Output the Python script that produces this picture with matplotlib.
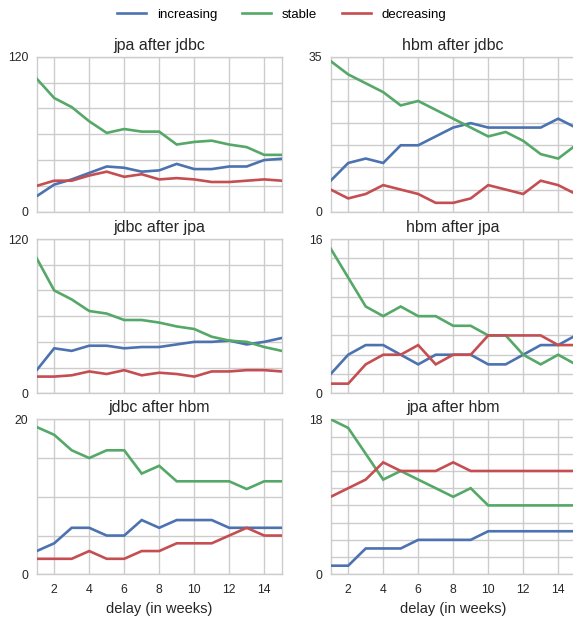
import numpy as np
import matplotlib
matplotlib.use("Agg")
import matplotlib.pyplot as plt

weeks = list(range(1, 16))
series_names = ["increasing", "stable", "decreasing"]
colors = ["#4C72B0", "#55A868", "#C44E52"]

titles = ["jpa after jdbc", "hbm after jdbc", "jdbc after jpa",
          "hbm after jpa", "jdbc after hbm", "jpa after hbm"]
ymax = [120, 35, 120, 16, 20, 18]
ystep = [20, 5, 20, 2, 5, 2]

jpa_after_jdbc_inc = [12, 21, 25, 30, 35, 34, 31, 32, 37, 33, 33, 35, 35, 40, 41]
jpa_after_jdbc_sta = [103, 88, 81, 70, 61, 64, 62, 62, 52, 54, 55, 52, 50, 44, 44]
jpa_after_jdbc_dec = [20, 24, 24, 28, 31, 27, 29, 25, 26, 25, 23, 23, 24, 25, 24]

hbm_after_jdbc_inc = [7, 11, 12, 11, 15, 15, 17, 19, 20, 19, 19, 19, 19, 21, 19]
hbm_after_jdbc_sta = [34, 31, 29, 27, 24, 25, 23, 21, 19, 17, 18, 16, 13, 12, 15]
hbm_after_jdbc_dec = [5, 3, 4, 6, 5, 4, 2, 2, 3, 6, 5, 4, 7, 6, 4]

jdbc_after_jpa_inc = [18, 35, 33, 37, 37, 35, 36, 36, 38, 40, 40, 41, 38, 40, 43]
jdbc_after_jpa_sta = [105, 80, 73, 64, 62, 57, 57, 55, 52, 50, 44, 41, 40, 36, 33]
jdbc_after_jpa_dec = [13, 13, 14, 17, 15, 18, 14, 16, 15, 13, 17, 17, 18, 18, 17]

hbm_after_jpa_inc = [2, 4, 5, 5, 4, 3, 4, 4, 4, 3, 3, 4, 5, 5, 6]
hbm_after_jpa_sta = [15, 12, 9, 8, 9, 8, 8, 7, 7, 6, 6, 4, 3, 4, 3]
hbm_after_jpa_dec = [1, 1, 3, 4, 4, 5, 3, 4, 4, 6, 6, 6, 6, 5, 5]

jdbc_after_hbm_inc = [3, 4, 6, 6, 5, 5, 7, 6, 7, 7, 7, 6, 6, 6, 6]
jdbc_after_hbm_sta = [19, 18, 16, 15, 16, 16, 13, 14, 12, 12, 12, 12, 11, 12, 12]
jdbc_after_hbm_dec = [2, 2, 2, 3, 2, 2, 3, 3, 4, 4, 4, 5, 6, 5, 5]

jpa_after_hbm_inc = [1, 1, 3, 3, 3, 4, 4, 4, 4, 5, 5, 5, 5, 5, 5]
jpa_after_hbm_sta = [18, 17, 14, 11, 12, 11, 10, 9, 10, 8, 8, 8, 8, 8, 8]
jpa_after_hbm_dec = [9, 10, 11, 13, 12, 12, 12, 13, 12, 12, 12, 12, 12, 12, 12]

panels = [
    (jpa_after_jdbc_inc, jpa_after_jdbc_sta, jpa_after_jdbc_dec),
    (hbm_after_jdbc_inc, hbm_after_jdbc_sta, hbm_after_jdbc_dec),
    (jdbc_after_jpa_inc, jdbc_after_jpa_sta, jdbc_after_jpa_dec),
    (hbm_after_jpa_inc, hbm_after_jpa_sta, hbm_after_jpa_dec),
    (jdbc_after_hbm_inc, jdbc_after_hbm_sta, jdbc_after_hbm_dec),
    (jpa_after_hbm_inc, jpa_after_hbm_sta, jpa_after_hbm_dec),
]

plt.rcParams['font.family'] = ['Liberation Sans', 'DejaVu Sans']

fig = plt.figure(figsize=(5.73, 6.2), dpi=100)
W, H = 573.0, 620.0
lefts = [36.7, 330.7]
width = 245.0
tops = [56.7, 239.0, 419.3]
bottoms = [211.7, 393.3, 574.3]

grid_color = "#cccccc"
lines_for_legend = []
for i, (title, data) in enumerate(zip(titles, panels)):
    r, c = divmod(i, 2)
    ax = fig.add_axes([lefts[c] / W, 1 - bottoms[r] / H, width / W,
                       (bottoms[r] - tops[r]) / H])
    ax.set_facecolor("white")
    for s in ax.spines.values():
        s.set_color(grid_color)
        s.set_linewidth(1.0)
    for vals, col, name in zip(data, colors, series_names):
        ln, = ax.plot(weeks, vals, color=col, lw=1.9, label=name, zorder=3,
                      solid_joinstyle="miter")
        if i == 0:
            lines_for_legend.append(ln)
    ax.set_xlim(1, 15)
    ax.set_ylim(0, ymax[i])
    ax.set_xticks(np.arange(2, 15, 2))
    ax.set_yticks([0, ymax[i]])
    ax.set_yticks(np.arange(0, ymax[i] + 0.01, ystep[i]), minor=True)
    ax.grid(True, which="both", color=grid_color, lw=1.0, zorder=0)
    ax.set_axisbelow(True)
    ax.tick_params(which="both", length=0, labelsize=8.8, colors="#262626")
    ax.tick_params(axis="y", pad=6)
    ax.tick_params(axis="x", pad=7)
    ax.set_title(title, fontsize=11.5, color="#262626", pad=5)
    if r < 2:
        ax.set_xticklabels([])
    else:
        ax.set_xlabel("delay (in weeks)", fontsize=10.5, color="#262626",
                      labelpad=4)

fig.legend(lines_for_legend, series_names, loc="upper center",
           bbox_to_anchor=(0.492, 1.005), ncol=3, frameon=False,
           fontsize=9.5, handlelength=2.2, columnspacing=1.9,
           handletextpad=0.8)

fig.savefig("out.png", dpi=100, facecolor="white")
